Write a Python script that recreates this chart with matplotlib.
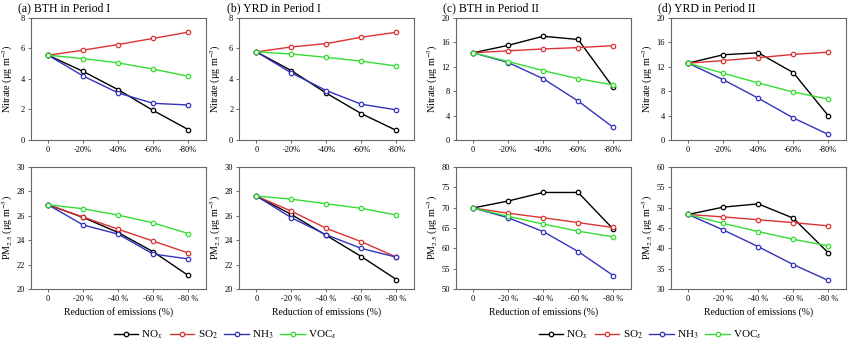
import matplotlib
matplotlib.use("Agg")
import matplotlib.pyplot as plt
from matplotlib.lines import Line2D

plt.rcParams['font.family'] = ['Liberation Serif', 'DejaVu Serif']
plt.rcParams['mathtext.fontset'] = 'stix'

# emission reduction steps
steps = ["0", "-20%", "-40%", "-60%", "-80%"]
steps_pm = ["0", "-20 %", "-40 %", "-60 %", "-80 %"]
species = ["NO$_x$", "SO$_2$", "NH$_3$", "VOC$_s$"]
colors = ["black", "#dd3333", "#3333bb", "#33dd33"]

# nitrate (ug m-3), one list per precursor: NOx, SO2, NH3, VOCs
nit_bth1 = [[5.55, 4.49, 3.29, 1.93, 0.68],
            [5.55, 5.88, 6.25, 6.65, 7.06],
            [5.55, 4.19, 3.08, 2.40, 2.29],
            [5.55, 5.33, 5.05, 4.64, 4.17]]
nit_yrd1 = [[5.77, 4.54, 3.06, 1.72, 0.62],
            [5.77, 6.09, 6.31, 6.73, 7.05],
            [5.77, 4.39, 3.23, 2.34, 1.97],
            [5.77, 5.63, 5.41, 5.16, 4.84]]
nit_bth2 = [[14.27, 15.49, 16.98, 16.45, 8.59],
            [14.27, 14.59, 14.90, 15.12, 15.44],
            [14.27, 12.68, 10.03, 6.37, 2.07],
            [14.27, 12.84, 11.35, 10.03, 9.02]]
nit_yrd2 = [[12.57, 13.95, 14.27, 11.03, 3.98],
            [12.57, 13.00, 13.47, 14.00, 14.38],
            [12.57, 9.87, 6.84, 3.61, 0.90],
            [12.57, 10.93, 9.34, 7.85, 6.68]]

# PM2.5 (ug m-3)
pm_bth1 = [[26.89, 25.86, 24.62, 23.05, 21.11],
           [26.89, 25.89, 24.89, 23.92, 22.95],
           [26.89, 25.24, 24.49, 22.86, 22.46],
           [26.89, 26.57, 26.05, 25.41, 24.54]]
pm_yrd1 = [[27.61, 26.10, 24.38, 22.65, 20.77],
           [27.61, 26.37, 24.96, 23.87, 22.60],
           [27.61, 25.83, 24.43, 23.32, 22.60],
           [27.61, 27.35, 26.98, 26.60, 26.05]]
pm_bth2 = [[69.9, 71.6, 73.7, 73.7, 64.7],
           [69.9, 68.6, 67.5, 66.3, 65.1],
           [69.9, 67.5, 64.1, 59.2, 53.3],
           [69.9, 67.85, 65.95, 64.2, 62.8]]
pm_yrd2 = [[48.3, 50.1, 50.9, 47.4, 38.9],
           [48.3, 47.7, 47.0, 46.3, 45.5],
           [48.3, 44.5, 40.4, 36.0, 32.1],
           [48.3, 46.1, 44.1, 42.2, 40.6]]

titles = ["(a) BTH in Period I", "(b) YRD in Period I",
          "(c) BTH in Period II", "(d) YRD in Period II"]
top_data = [nit_bth1, nit_yrd1, nit_bth2, nit_yrd2]
bot_data = [pm_bth1, pm_yrd1, pm_bth2, pm_yrd2]
top_ylim = [(0, 8, 2), (0, 8, 2), (0, 20, 4), (0, 20, 4)]
bot_ylim = [(20, 30, 2), (20, 30, 2), (50, 80, 5), (30, 60, 5)]

fig = plt.figure(figsize=(8.5, 3.49), dpi=100)

lefts = [0.036, 0.281, 0.536, 0.789]
width = 0.206
height = 0.350
bottoms = [0.599, 0.172]


def draw(ax, data, lim, ticklabels, ylabel, xlabel=None):
    x = range(len(steps))
    for vals, c in zip(data, colors):
        ax.plot(x, vals, color=c, lw=1.0, marker='o', ms=3.2,
                mfc='white', mec=c, mew=0.9)
    lo, hi, st = lim
    ax.set_ylim(lo, hi)
    ax.set_yticks(range(lo, hi + 1, st))
    ax.set_xlim(-0.5, 4.5)
    ax.set_xticks(list(x))
    ax.set_xticklabels(ticklabels)
    ax.tick_params(labelsize=6, length=2.5, width=0.6, pad=1.5, color='#555555')
    for s in ax.spines.values():
        s.set_color('#666666')
        s.set_linewidth(0.8)
    ax.set_ylabel(ylabel, fontsize=7.3)
    ax.yaxis.set_label_coords(-0.088, 0.5)
    if xlabel:
        ax.set_xlabel(xlabel, fontsize=7, labelpad=3)


for i in range(4):
    ax = fig.add_axes([lefts[i], bottoms[0], width, height])
    draw(ax, top_data[i], top_ylim[i], steps, "Nitrate (μg m$^{-3}$)")
    ax.set_title(titles[i], fontsize=8.5, loc='left', pad=4.5, x=-0.07)

    ax = fig.add_axes([lefts[i], bottoms[1], width, height])
    draw(ax, bot_data[i], bot_ylim[i], steps_pm,
         "PM$_{2.5}$ (μg m$^{-3}$)", "Reduction of emissions (%)")

handles = [Line2D([], [], color=c, lw=1.0, marker='o', ms=3.2, mfc='white',
                  mec=c, mew=0.9) for c in colors]
for cx in [0.265, 0.765]:
    fig.legend(handles, species, loc='center', bbox_to_anchor=(cx, 0.04),
               ncol=4, frameon=False, fontsize=8, handlelength=2.2,
               handletextpad=0.3, columnspacing=0.6)

fig.savefig("out.png", dpi=100)
